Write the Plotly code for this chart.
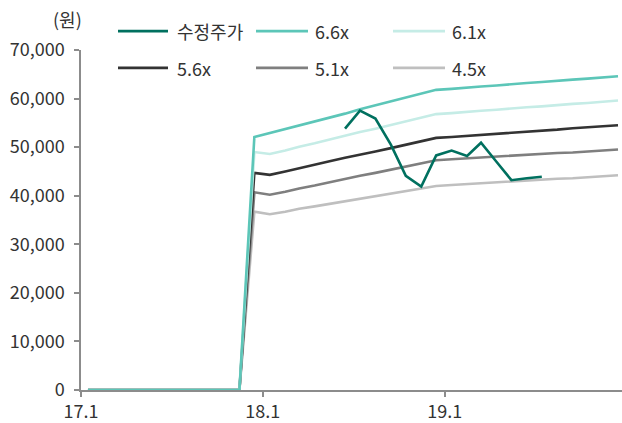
import plotly.graph_objects as go

# Month-end observations (plotted at mid-month)
months = [f"{y}-{m:02d}-15" for y in (2017, 2018, 2019) for m in range(1, 13)]

# PER band values (won); no estimate before Dec 2017
band_66 = [0]*11 + [52100,
           52900, 53700, 54500, 55300, 56100, 56900, 57800, 58600, 59400, 60200, 61000, 61800,
           62000, 62300, 62500, 62700, 63000, 63200, 63400, 63700, 63900, 64100, 64400, 64600]
band_61 = [0]*11 + [49000,
           48600, 49300, 50100, 50800, 51600, 52300, 53100, 53800, 54600, 55300, 56100, 56800,
           57000, 57300, 57500, 57700, 58000, 58200, 58400, 58700, 58900, 59100, 59400, 59600]
band_56 = [0]*11 + [44700,
           44300, 45000, 45700, 46400, 47100, 47800, 48400, 49100, 49800, 50500, 51200, 51900,
           52100, 52300, 52600, 52800, 53000, 53200, 53400, 53600, 53900, 54100, 54300, 54500]
band_51 = [0]*11 + [40700,
           40200, 40800, 41500, 42100, 42800, 43400, 44100, 44700, 45400, 46000, 46700, 47300,
           47500, 47700, 47800, 48000, 48200, 48400, 48600, 48800, 48900, 49100, 49300, 49500]
band_45 = [0]*11 + [36700,
           36200, 36700, 37300, 37800, 38300, 38800, 39400, 39900, 40400, 40900, 41500, 42000,
           42200, 42400, 42600, 42700, 42900, 43100, 43300, 43500, 43600, 43800, 44000, 44200]

# Adjusted share price, Jun 2018 - Jul 2019
price_months = [f"{y}-{m:02d}-15" for y, m in
                [(2018, 6), (2018, 7), (2018, 8), (2018, 9), (2018, 10), (2018, 11), (2018, 12),
                 (2019, 1), (2019, 2), (2019, 3), (2019, 4), (2019, 5), (2019, 6), (2019, 7)]]
price = [53800, 57500, 55900, 50500, 44100, 41900, 48300,
         49300, 48200, 50900, 47000, 43200, 43600, 43900]

series_names = ["수정주가", "6.6x", "6.1x", "5.6x", "5.1x", "4.5x"]
colors = {"수정주가": "#00705f", "6.6x": "#5cc6b8", "6.1x": "#c5ece6",
          "5.6x": "#333333", "5.1x": "#7f7f7f", "4.5x": "#bfbfbf"}

y_ticks = [0, 10000, 20000, 30000, 40000, 50000, 60000, 70000]
x_ticks = ["2017-01-01", "2018-01-01", "2019-01-01"]
x_labels = ["17.1", "18.1", "19.1"]

W, H = 622, 423
ML, MR, MT, MB = 81, 0, 50, 31
FONT = "Noto Sans CJK KR"
TEXT = "#333333"
AXIS = "#8c8c8c"

fig = go.Figure()
bands = [("4.5x", band_45), ("5.1x", band_51), ("5.6x", band_56),
         ("6.1x", band_61), ("6.6x", band_66)]
for name, vals in bands:
    fig.add_trace(go.Scatter(x=months, y=vals, mode="lines", name=name,
                             line=dict(color=colors[name], width=2.6),
                             showlegend=False))
fig.add_trace(go.Scatter(x=price_months, y=price, mode="lines", name="수정주가",
                         line=dict(color=colors["수정주가"], width=2.6),
                         showlegend=False))

# Legend drawn as line samples with text, two rows of three
def px_x(px):
    return (px - ML) / (W - ML - MR)

def px_y(py):
    return (H - MB - py) / (H - MT - MB)

legend_cols = [(118, 168, 175), (256, 308, 313), (393, 445, 450)]
legend_rows = [31, 68]
shapes, annotations = [], []
for i, name in enumerate(series_names):
    x0, x1, xt = legend_cols[i % 3]
    yy = legend_rows[i // 3]
    shapes.append(dict(type="line", xref="paper", yref="paper",
                       x0=px_x(x0), x1=px_x(x1), y0=px_y(yy), y1=px_y(yy),
                       line=dict(color=colors[name], width=2.6)))
    annotations.append(dict(text=name, xref="paper", yref="paper",
                            x=px_x(xt), y=px_y(yy), xanchor="left", yanchor="middle",
                            showarrow=False, font=dict(family=FONT, size=18, color=TEXT)))

annotations.append(dict(text="(원)", xref="paper", yref="paper",
                        x=px_x(84), y=px_y(19), xanchor="right", yanchor="middle",
                        showarrow=False, font=dict(family=FONT, size=18, color=TEXT)))

axis_common = dict(showgrid=False, zeroline=False,
                   showline=True, linecolor=AXIS, linewidth=1.5,
                   ticks="outside", ticklen=5, tickwidth=1.5, tickcolor=AXIS,
                   tickfont=dict(family=FONT, size=18, color=TEXT))

fig.update_layout(
    width=W, height=H,
    margin=dict(l=ML, r=MR, t=MT, b=MB),
    paper_bgcolor="white", plot_bgcolor="white",
    shapes=shapes, annotations=annotations,
    font=dict(family=FONT, size=18, color=TEXT),
    xaxis=dict(type="date", range=["2017-01-01", "2019-12-23"],
               tickvals=x_ticks, ticktext=x_labels, ticklabelstandoff=0,
               **axis_common),
    yaxis=dict(range=[0, 70000], tickvals=y_ticks, tickformat=",d",
               ticklabelstandoff=6, **axis_common),
)

fig.write_html("out.html")
